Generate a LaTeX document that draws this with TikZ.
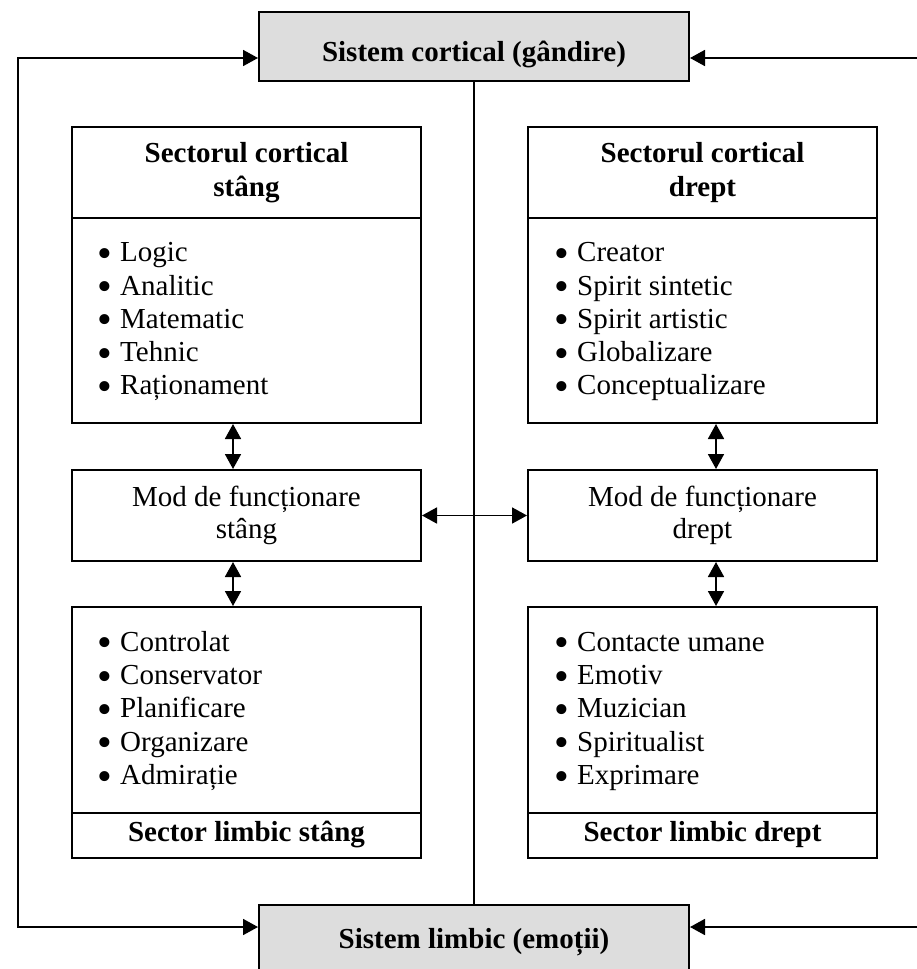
\documentclass[tikz,border=0pt]{standalone}
\usepackage{fontspec}
\setmainfont{Liberation Serif}
\usetikzlibrary{arrows.meta}
\definecolor{boxgray}{HTML}{DDDDDD}
% enlarged bullet followed by a fixed indent
\newcommand{\bulitem}[1]{\makebox[23pt][l]{\smash{\raisebox{-5.5pt}{\scalebox{1.45}{\textbullet}}}}#1}
\begin{document}
\begin{tikzpicture}[x=1pt,y=-1pt,
  every node/.style={font=\fontsize{29}{33.3}\selectfont},
  frame/.style={draw, line width=2pt, minimum width=349pt, inner sep=0pt},
  sysbox/.style={draw, line width=2pt, fill=boxgray, minimum width=430pt, minimum height=69pt, inner sep=0pt},
  txt/.style={inner sep=0pt, anchor=base},
  bold/.style={inner sep=0pt, anchor=base, font=\fontsize{29}{33.3}\selectfont\bfseries},
  % lists are anchored at the baseline of their last line
  itemlist/.style={inner sep=0pt, anchor=base west, align=left},
  link/.style={line width=1.8pt},
  tip/.style={-{Triangle[length=15pt,width=16pt]}},
  both/.style={{Triangle[length=15pt,width=16pt]}-{Triangle[length=15pt,width=16pt]}},
]
\path[use as bounding box, clip] (0,0) rectangle (917,969);

% system boxes
\node[sysbox] (cort) at (474,46.5) {};
\node[bold] (cortT) at (474,61.7) {Sistem cortical (gândire)};
\node[sysbox] (limb) at (474,939.5) {};
\node[bold] (limbT) at (474,948) {Sistem limbic (emoții)};

% left column
\node[frame, minimum height=91pt]  (hdL)  at (246.5,172.5) {};
\node[frame, minimum height=205pt] (lstL) at (246.5,320.5) {};
\node[frame, minimum height=91pt]  (modL) at (246.5,515.5) {};
\node[frame, minimum height=206pt] (limL) at (246.5,710) {};
\node[frame, minimum height=45pt]  (labL) at (246.5,835.5) {};

\node[bold] (hdL1) at (246.5,162.7) {Sectorul cortical};
\node[bold] (hdL2) at (246.5,196.7) {stâng};
\node[itemlist] (itL) at (97,394.9) {\bulitem{Logic}\\\bulitem{Analitic}\\\bulitem{Matematic}\\\bulitem{Tehnic}\\\bulitem{Raționament}};
\node[txt] (modL1) at (246.5,506) {Mod de funcționare};
\node[txt] (modL2) at (246.5,538.5) {stâng};
\node[itemlist] (jtL) at (97,784.5) {\bulitem{Controlat}\\\bulitem{Conservator}\\\bulitem{Planificare}\\\bulitem{Organizare}\\\bulitem{Admirație}};
\node[bold] (labLT) at (246.5,841.7) {Sector limbic stâng};

% right column
\node[frame, minimum height=91pt]  (hdR)  at (702.5,172.5) {};
\node[frame, minimum height=205pt] (lstR) at (702.5,320.5) {};
\node[frame, minimum height=91pt]  (modR) at (702.5,515.5) {};
\node[frame, minimum height=206pt] (limR) at (702.5,710) {};
\node[frame, minimum height=45pt]  (labR) at (702.5,835.5) {};

\node[bold] (hdR1) at (702.5,162.7) {Sectorul cortical};
\node[bold] (hdR2) at (702.5,196.7) {drept};
\node[itemlist] (itR) at (554,394.9) {\bulitem{Creator}\\\bulitem{Spirit sintetic}\\\bulitem{Spirit artistic}\\\bulitem{Globalizare}\\\bulitem{Conceptualizare}};
\node[txt] (modR1) at (702.5,506) {Mod de funcționare};
\node[txt] (modR2) at (702.5,538.5) {drept};
\node[itemlist] (jtR) at (554,784.5) {\bulitem{Contacte umane}\\\bulitem{Emotiv}\\\bulitem{Muzician}\\\bulitem{Spiritualist}\\\bulitem{Exprimare}};
\node[bold] (labRT) at (702.5,841.7) {Sector limbic drept};

% outer loop connectors
\coordinate (lt) at (18,58);
\coordinate (lb) at (18,927);
\coordinate (rt) at (917,58);
\coordinate (rb) at (917,927);
\draw[link,both] (cort.west |- lt) -- (lt) -- (lb) -- (limb.west |- lb);
\draw[link,tip] (rt) -- (cort.east |- rt);
\draw[link,tip] (rb) -- (limb.east |- rb);

% central divider
\draw[line width=1.2pt] (cort.south) -- (limb.north);

% links between blocks
\draw[link,both] (modL.east) -- (modR.west);
\draw[link,both] ([xshift=-13.5pt]lstL.south) -- ([xshift=-13.5pt]modL.north);
\draw[link,both] ([xshift=-13.5pt]modL.south) -- ([xshift=-13.5pt]limL.north);
\draw[link,both] ([xshift=13.5pt]lstR.south) -- ([xshift=13.5pt]modR.north);
\draw[link,both] ([xshift=13.5pt]modR.south) -- ([xshift=13.5pt]limR.north);
\end{tikzpicture}
\end{document}
